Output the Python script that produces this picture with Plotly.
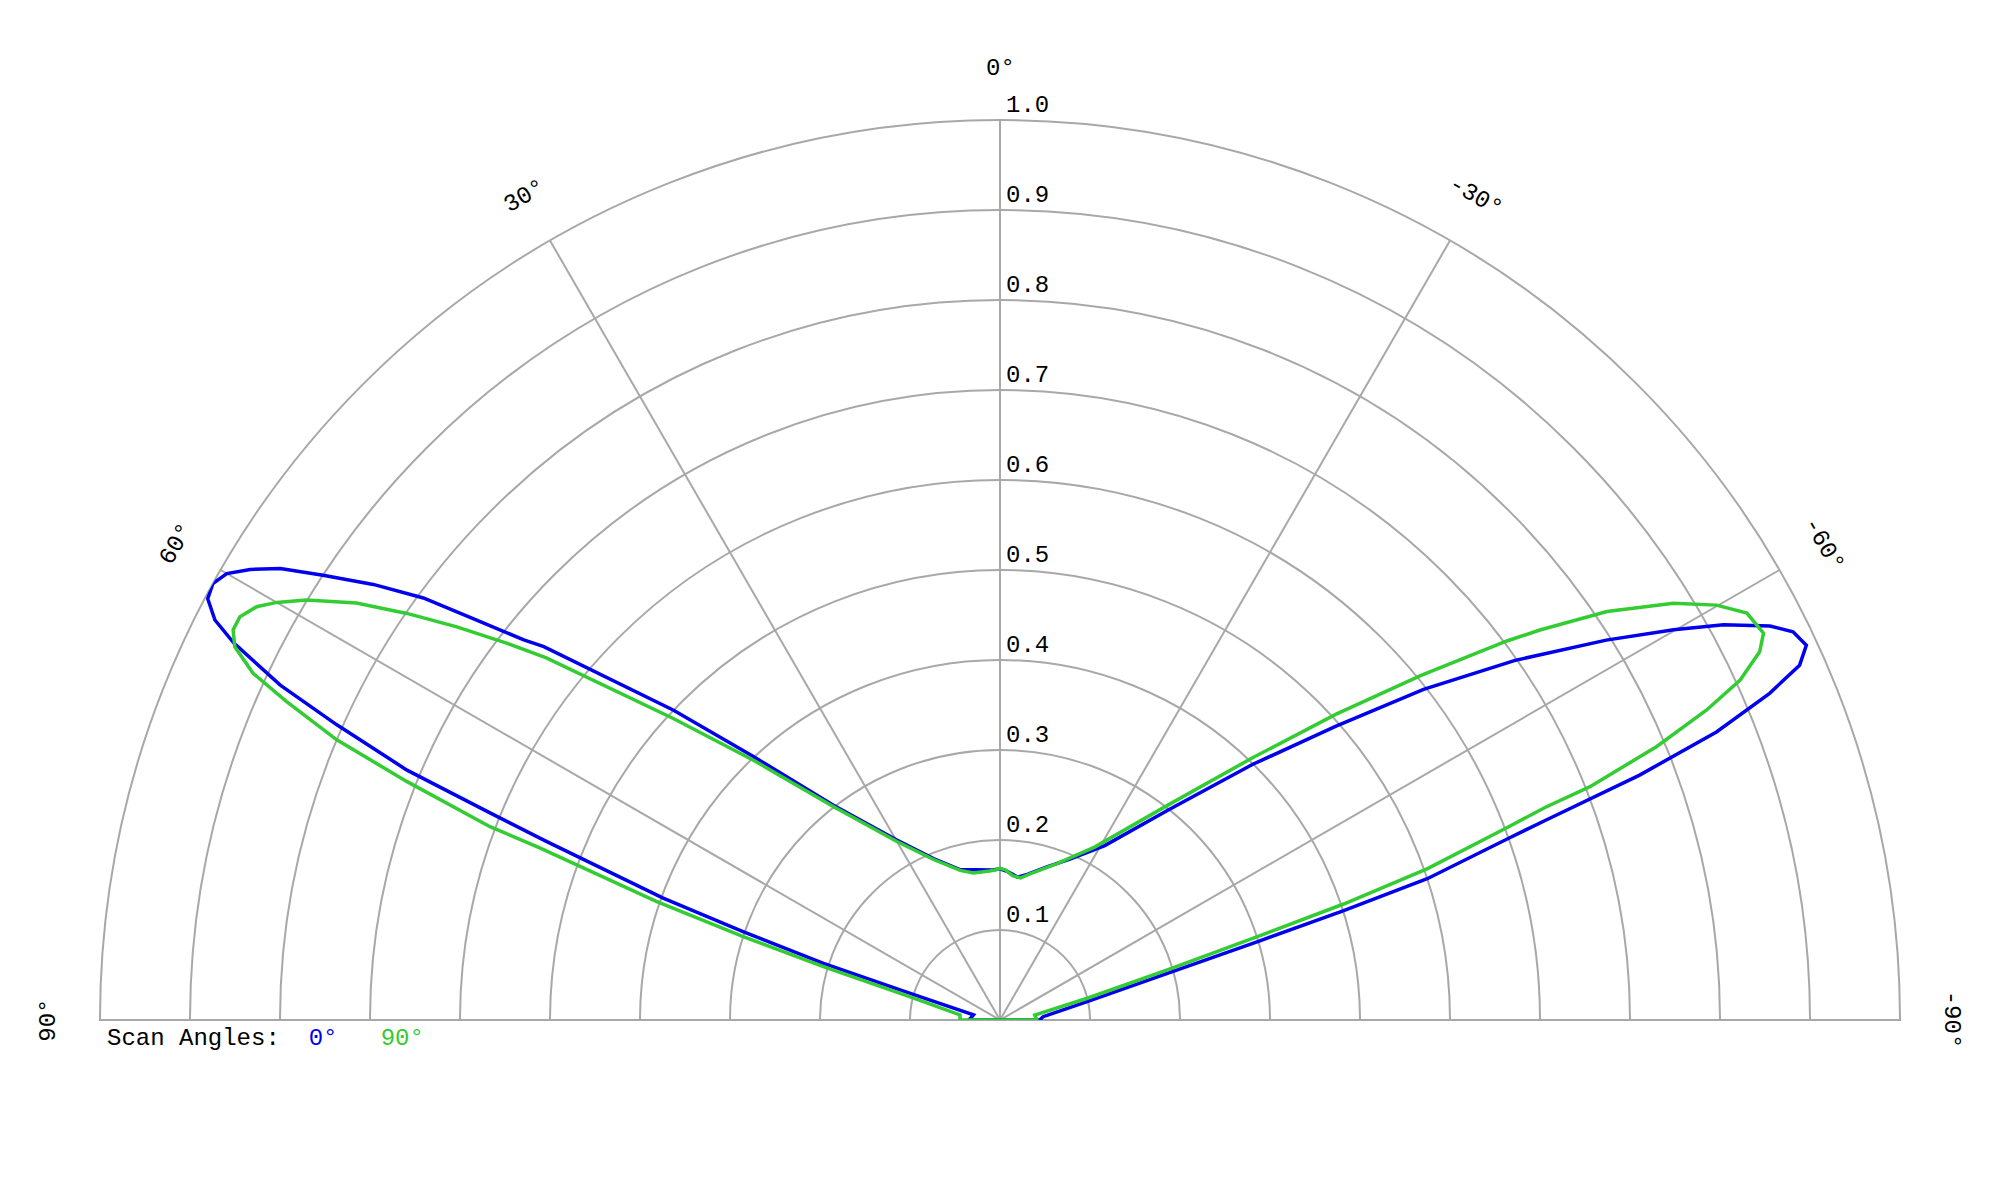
import plotly.graph_objects as go
import math

# scan angle 0 deg (blue), theta in degrees (left = positive)
# the last point closes the curve along the baseline
theta_0 = [90, 85, 79, 73.5, 72.2, 71.0, 70.1, 68.5, 67.9, 67.15, 66.0, 65.05,
           63.8, 63.0, 62.0, 61.0, 60.0, 59.0, 57.9, 56.7, 55.2, 53.8, 52.7, 51.4,
           50.7, 46.5, 43.1, 37.8, 29.9, 22.4, 14.9, 8.8, 3, 0, -3, -7, -10.85, -17,
           -23.5, -31.0, -38.7, -44.65, -48.84, -52.03, -55.08, -57.93, -59.92,
           -61.36, -62.9, -63.92, -65.07, -66.07, -67.0, -68.1, -69.05, -69.9,
           -70.35, -71.7, -72.35, -73.06, -74.4, -78.1, -85.6, -90, 90]
r_0 = [0.035, 0.032, 0.030, 0.104, 0.206, 0.302, 0.398, 0.543, 0.611, 0.715,
       0.807, 0.882, 0.949, 0.979, 0.997, 1.000, 0.992, 0.972, 0.944, 0.900, 0.848,
       0.794, 0.736, 0.677, 0.655, 0.500, 0.401, 0.302, 0.231, 0.194, 0.173, 0.169,
       0.167, 0.168, 0.165, 0.160, 0.165, 0.178, 0.195, 0.226, 0.299, 0.399, 0.496,
       0.597, 0.698, 0.795, 0.865, 0.916, 0.961, 0.981, 0.988, 0.972, 0.929, 0.858,
       0.761, 0.645, 0.599, 0.500, 0.400, 0.301, 0.194, 0.099, 0.048, 0.044, 0.035]

# scan angle 90 deg (green)
theta_90 = [90, 85, 82.8, 75.5, 73.2, 72.0, 70.97, 69.5, 69.24, 68.1, 67.1,
            65.95, 65.1, 64.0, 63.04, 62.05, 60.93, 60.0, 58.8, 57.06, 55.57, 54.1,
            52.63, 51.4, 47.3, 43.5, 38.0, 30, 22.5, 14.9, 10.3, 4, 1.5, 0, -2, -5,
            -8.3, -12.7, -20, -28.7, -38.0, -43.9, -47.7, -50.68, -53.23, -54.16,
            -56.06, -58.25, -59.93, -61.42, -63.13, -64.14, -65.33, -66.32, -67.4,
            -68.42, -68.7, -69.2, -70.5, -71.35, -72.05, -73.3, -76.0, -81.8, -90,
            90]
r_90 = [0.0445, 0.0446, 0.0448, 0.103, 0.205, 0.300, 0.404, 0.546, 0.606,
        0.710, 0.800, 0.868, 0.915, 0.946, 0.956, 0.956, 0.945, 0.928, 0.901, 0.852,
        0.799, 0.745, 0.690, 0.645, 0.494, 0.398, 0.301, 0.229, 0.193, 0.172, 0.166,
        0.166, 0.167, 0.1685, 0.167, 0.161, 0.1595, 0.168, 0.185, 0.219, 0.303,
        0.404, 0.505, 0.604, 0.704, 0.740, 0.813, 0.880, 0.920, 0.945, 0.951, 0.938,
        0.905, 0.857, 0.790, 0.705, 0.650, 0.604, 0.504, 0.403, 0.303, 0.195, 0.100,
        0.039, 0.041, 0.0445]

angle_ticks = [90, 60, 30, 0, -30, -60, -90]
angle_labels = ["90°", "60°", "30°", "0°", "-30°", "-60°", "-90°"]
radial_ticks = [0.1, 0.2, 0.3, 0.4, 0.5, 0.6, 0.7, 0.8, 0.9, 1.0]
radial_labels = ["0.1", "0.2", "0.3", "0.4", "0.5", "0.6", "0.7", "0.8", "0.9", "1.0"]

FONT = "Courier New, Liberation Mono, monospace"
GRID = "#a8a8a8"
BLUE = "#0000ee"
GREEN = "#33cc33"

fig = go.Figure()
fig.add_trace(go.Scatterpolar(theta=theta_0, r=r_0, mode="lines", cliponaxis=False,
                              line=dict(color=BLUE, width=3.5), hoverinfo="skip"))
fig.add_trace(go.Scatterpolar(theta=theta_90, r=r_90, mode="lines", cliponaxis=False,
                              line=dict(color=GREEN, width=3.5), hoverinfo="skip"))

annotations = []
# radial labels just right of the 0 deg spoke, sitting on each ring
# (the polar domain is exactly one radius high, so paper y == r)
for rv, lab in zip(radial_ticks, radial_labels):
    annotations.append(dict(
        x=0.5, y=rv, xref="paper", yref="paper", text=lab, showarrow=False,
        xanchor="left", yanchor="bottom", xshift=4, yshift=-1,
        font=dict(family=FONT, size=24, color="black")))

# angular labels, rotated along the arc
for a, lab in zip(angle_ticks, angle_labels):
    rad = math.radians(a)
    annotations.append(dict(
        x=0.5 - 1.057 * math.sin(rad) * 0.5, y=1.057 * math.cos(rad),
        xref="paper", yref="paper", text=lab, showarrow=False,
        textangle=-a, xanchor="center", yanchor="middle",
        font=dict(family=FONT, size=24, color="black")))

annotations.append(dict(
    x=0.003, y=-0.02, xref="paper", yref="paper", xanchor="left", yanchor="middle",
    showarrow=False, font=dict(family=FONT, size=24, color="black"),
    text=("Scan Angles:\u00a0\u00a0<span style='color:%s'>0°</span>"
          "\u00a0\u00a0\u00a0<span style='color:%s'>90°</span>" % (BLUE, GREEN))))

fig.update_layout(
    width=2000, height=1200,
    margin=dict(l=92, r=108, t=112, b=188),
    paper_bgcolor="white",
    showlegend=False,
    annotations=annotations,
    polar=dict(
        sector=[0, 180],
        bgcolor="white",
        angularaxis=dict(rotation=90, direction="counterclockwise",
                         tickmode="array", tickvals=angle_ticks,
                         showticklabels=False, ticks="", layer="below traces",
                         showline=True, linecolor=GRID, linewidth=2,
                         gridcolor=GRID, gridwidth=2),
        radialaxis=dict(range=[0, 1], tickmode="array", tickvals=radial_ticks,
                        showticklabels=False, ticks="", showline=False,
                        layer="below traces",
                        gridcolor=GRID, gridwidth=2, angle=90),
    ),
)

fig.write_html("out.html")
